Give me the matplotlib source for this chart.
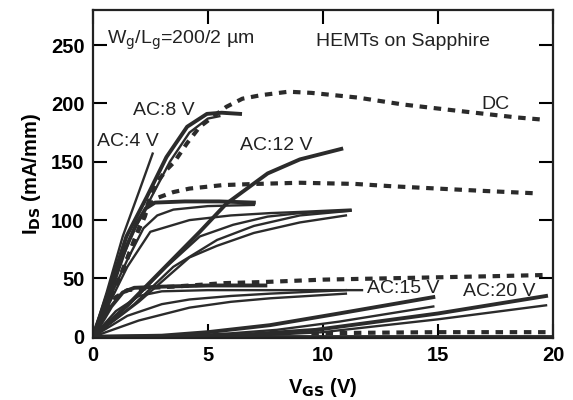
import numpy as np
import matplotlib
matplotlib.use("Agg")
import matplotlib.pyplot as plt

plt.rcParams['font.family'] = ['Liberation Sans', 'DejaVu Sans']

# DC curves (dashed)
dc_top_x = [0, 1.2, 1.8, 2.2, 2.5, 2.85, 3.2, 3.55, 4.1, 4.65, 5.8, 6.5, 7.3, 8.5, 9.5, 11.5, 13.5, 15.7, 18.4, 19.6]
dc_top_y = [0, 52, 82, 103, 120, 134, 143, 150, 166, 180, 197, 204, 207, 210, 209, 205, 199, 194, 188, 186]
dc_mid_x = [0, 1.2, 1.9, 2.26, 2.4, 2.8, 3.5, 4.2, 5.65, 7.1, 9, 11.4, 13, 15, 17, 19.2]
dc_mid_y = [0, 52, 88, 103, 112, 119, 124, 127, 130, 131, 132, 131, 129, 127, 125, 123]
dc_low_x = [0, 0.6, 1.0, 1.5, 2.5, 3.5, 5.7, 7.5, 10, 12.5, 15, 17.5, 19.7]
dc_low_y = [0, 22, 34, 40, 42, 43, 46, 47, 49, 50, 51, 52, 53]
dc_off_x = [9.5, 12, 15, 17.5, 19.8]
dc_off_y = [3, 3.5, 4, 4, 4]

# AC curves (solid)
ac4_x = [0, 0.6, 1.3, 2.0, 2.6]
ac4_y = [0, 38, 86, 124, 157]
ac8a_x = [0, 0.7, 1.46, 2.35, 3.2, 4.1, 4.96, 5.6, 6.4]
ac8a_y = [0, 40, 86, 120, 154, 180, 191, 192, 191]
ac8b_x = [0, 0.8, 1.6, 2.5, 3.35, 4.2, 5.0, 5.5]
ac8b_y = [0, 38, 84, 118, 150, 175, 187, 189]
sat115a_x = [0, 0.7, 1.3, 1.9, 2.3, 2.7, 4, 5.5, 7]
sat115a_y = [0, 38, 70, 97, 110, 115, 116, 116, 115]
sat115b_x = [0, 0.8, 1.5, 2.2, 2.8, 3.5, 5, 7]
sat115b_y = [0, 36, 66, 93, 104, 109, 112, 113]
sat108a_x = [0, 1.0, 1.5, 2.5, 4.2, 6, 7.7, 9, 11.2]
sat108a_y = [0, 40, 60, 90, 100, 104, 106, 107, 109]
ac12a_x = [0, 1.5, 3.0, 4.65, 5.8, 7.6, 9.0, 10.8]
ac12a_y = [0, 27, 57, 90, 114, 140, 152, 161]
ac12b_x = [0, 1.6, 3.2, 4.65, 6.1, 7.6, 9.0, 11.2]
ac12b_y = [0, 28, 60, 86, 96, 103, 106, 108]
ac12c_x = [0, 1.8, 3.5, 5.4, 7.0, 9.0, 11.2]
ac12c_y = [0, 28, 60, 83, 95, 104, 108]
ac12d_x = [0, 2.0, 4.2, 5.4, 7.0, 9.0, 11.0]
ac12d_y = [0, 30, 68, 78, 89, 98, 104]
sat43a_x = [0, 0.5, 0.8, 1.3, 1.8, 3, 5, 7.5]
sat43a_y = [0, 16, 26, 38, 42, 43, 44, 44]
sat43b_x = [0, 1.0, 2.0, 3.0, 5.0, 8.0, 11.7]
sat43b_y = [0, 22, 35, 39, 40, 40, 40]
sat43c_x = [0, 1.5, 3.0, 4.2, 6.0, 7.7, 11.0]
sat43c_y = [0, 18, 28, 32, 35, 37, 40]
sat43d_x = [0, 2.0, 4.2, 6.0, 7.7, 11.0]
sat43d_y = [0, 14, 25, 30, 33, 37]
ac15a_x = [0, 3, 5, 7.7, 10.7, 14.8]
ac15a_y = [0, 1, 4, 10, 20, 34]
ac15b_x = [0, 4, 6, 8, 10.7, 14.8]
ac15b_y = [0, 1, 3, 6, 13, 26]
ac20a_x = [0, 6, 9.7, 15, 19.7]
ac20a_y = [0, 1, 6, 20, 35]
ac20b_x = [0, 7, 10, 15, 19.7]
ac20b_y = [0, 1, 4, 15, 27]
off_x = [0, 20]
off_y = [0, 0]

ink = '#2b2b2b'
fig = plt.figure(figsize=(5.73, 4.0), dpi=100)
ax = fig.add_axes([0.162, 0.155, 0.803, 0.82])

dash = (0, (1.8, 1.6))
for xs, ys in [(dc_top_x, dc_top_y), (dc_mid_x, dc_mid_y), (dc_low_x, dc_low_y), (dc_off_x, dc_off_y)]:
    ax.plot(xs, ys, color=ink, lw=3.0, linestyle=dash, dash_capstyle='butt')

thin = [(ac4_x, ac4_y), (ac8b_x, ac8b_y), (sat115b_x, sat115b_y), (sat108a_x, sat108a_y),
        (ac12b_x, ac12b_y), (ac12c_x, ac12c_y), (ac12d_x, ac12d_y),
        (sat43b_x, sat43b_y), (sat43c_x, sat43c_y), (sat43d_x, sat43d_y),
        (ac15b_x, ac15b_y), (ac20b_x, ac20b_y)]
thick = [(ac8a_x, ac8a_y), (sat115a_x, sat115a_y), (ac12a_x, ac12a_y),
         (sat43a_x, sat43a_y), (ac15a_x, ac15a_y), (ac20a_x, ac20a_y)]
for xs, ys in thin:
    ax.plot(xs, ys, color=ink, lw=1.7)
for xs, ys in thick:
    ax.plot(xs, ys, color=ink, lw=2.8)
ax.plot(off_x, off_y, color=ink, lw=3.5)

ax.set_xlim(0, 20)
ax.set_ylim(-1, 280)
ax.set_xticks([0, 5, 10, 15, 20])
ax.set_yticks([0, 50, 100, 150, 200, 250])
ax.tick_params(direction='in', length=10, width=1.5, top=True, right=True,
               labelsize=14.5, pad=6)
for lab in ax.get_xticklabels() + ax.get_yticklabels():
    lab.set_fontweight('bold')
for s in ax.spines.values():
    s.set_linewidth(1.6)
    s.set_color('#222222')

ax.set_xlabel(r'V$_{\mathbf{GS}}$ (V)', fontsize=14.5, fontweight='bold', labelpad=8)
ax.set_ylabel(r'I$_{\mathbf{DS}}$ (mA/mm)', fontsize=14.5, fontweight='bold', labelpad=6)

tfs = 14
tc = '#222222'
ax.text(0.6, 254, r'W$_\mathrm{g}$/L$_\mathrm{g}$=200/2 µm', fontsize=tfs, va='center', color=tc)
ax.text(9.7, 253, 'HEMTs on Sapphire', fontsize=tfs, va='center', color=tc)
ax.text(1.74, 194, 'AC:8 V', fontsize=tfs, va='center', color=tc)
ax.text(0.17, 167, 'AC:4 V', fontsize=tfs, va='center', color=tc)
ax.text(6.4, 164, 'AC:12 V', fontsize=tfs, va='center', color=tc)
ax.text(16.9, 199, 'DC', fontsize=tfs, va='center', color=tc)
ax.text(11.9, 41, 'AC:15 V', fontsize=tfs, va='center', color=tc)
ax.text(16.1, 39, 'AC:20 V', fontsize=tfs, va='center', color=tc)

fig.savefig('out.png', dpi=100)
